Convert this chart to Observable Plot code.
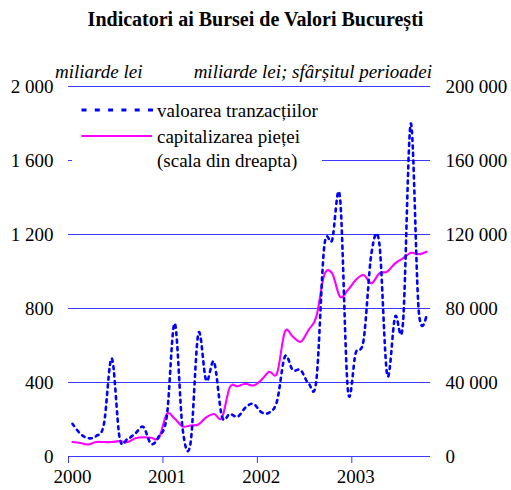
<!DOCTYPE html>
<html><head><meta charset="utf-8">
<script src="https://cdn.jsdelivr.net/npm/d3@7"></script>
<script src="https://cdn.jsdelivr.net/npm/@observablehq/plot@0.6"></script>
<style>
body{margin:0;background:#fff;font-family:"Liberation Serif","Times New Roman",serif;}
#title{width:511px;height:40px;text-align:center;font-weight:bold;font-size:20px;line-height:20px;padding-top:9px;box-sizing:border-box;color:#000;}
#chart svg{display:block;}
</style></head><body>
<div id="title">Indicatori ai Bursei de Valori București</div>
<div id="chart"></div>
<script>
const years = ["2000", "2001", "2002", "2003"];
const yearTicks = [0, 12, 24, 36];
const leftTicks = [0, 400, 800, 1200, 1600, 2000];
const rightTicks = [0, 40000, 80000, 120000, 160000, 200000];
const leftUnit = "miliarde lei";
const rightUnit = "miliarde lei; sfârșitul perioadei";
const seriesNames = ["valoarea tranzacțiilor", "capitalizarea pieței", "(scala din dreapta)"];

// monthly, Jan 2000 – Oct 2003
const valoarea = [
  177, 123, 99, 110, 175, 530, 100, 95, 125, 160, 68, 110,
  220, 720, 150, 70, 665, 410, 510, 215, 230, 215, 265, 285,
  240, 237, 300, 540, 467, 467, 396, 413, 1135, 1170, 1400, 360,
  560, 630, 1100, 1150, 440, 755, 720, 1800, 790, 765
];
const capitalizare = [
  7800, 7300, 6500, 7800, 7800, 7800, 8300, 7800, 9900, 10400, 10100, 10100,
  23000, 20400, 16200, 16800, 17300, 21200, 23000, 20900, 37500, 38000, 39300, 38400,
  41300, 45800, 45000, 67500, 64800, 62000, 68400, 75600, 98100, 99000, 86400, 90000,
  95400, 98100, 93600, 99000, 99900, 104400, 107100, 110100, 109300, 110700
];

const FONT = "Liberation Serif";
const rows = valoarea.map((v, i) => ({m: i + 0.5, v, c: capitalizare[i] / 100}));
const fmt = d3.formatLocale({thousands: " ", grouping: [3], decimal: ",", currency: ["", ""]}).format(",");
const BLUE = "#0000ff", GRID = "#3a3aff", MAG = "#ff00ff";
const txt = {fill: "black", fontFamily: FONT, fontSize: 19};

const plot = Plot.plot({
  width: 511, height: 450,
  marginTop: 46, marginBottom: 34, marginLeft: 68, marginRight: 81,
  style: `font-family: '${FONT}', serif; font-size: 19px; background: white; color: black; overflow: visible;`,
  x: {domain: [0, valoarea.length], axis: null},
  y: {domain: [0, 2000], axis: null},
  marks: [
    Plot.ruleY(leftTicks, {stroke: GRID, strokeWidth: 1}),
    Plot.axisX(yearTicks, {tickSize: 7, stroke: GRID, strokeWidth: 1, tickFormat: () => "", label: null}),
    Plot.text(yearTicks, {x: d => d, text: d => years[d / 12], frameAnchor: "bottom", dy: 26, dx: 4, ...txt}),
    Plot.text(leftTicks, {y: d => d, text: d => fmt(d), frameAnchor: "left", textAnchor: "end", dx: -15, ...txt}),
    Plot.text(rightTicks, {y: d => d / 100, text: d => fmt(d), frameAnchor: "right", textAnchor: "start", dx: 15, ...txt}),
    Plot.line(rows, {x: "m", y: "c", stroke: MAG, strokeWidth: 2.1, curve: "cardinal"}),
    Plot.line(rows, {x: "m", y: "v", stroke: BLUE, strokeWidth: 2.6, strokeDasharray: "3,4.5", curve: "cardinal"})
  ]
});
document.getElementById("chart").appendChild(plot);

// units + legend
const svg = d3.select(plot);
const g = svg.append("g");
function label(x, y, s, anchor, italic) {
  g.append("text").attr("x", x).attr("y", y).attr("text-anchor", anchor)
    .style("font-family", `'${FONT}', serif`).style("font-size", "19px")
    .style("font-style", italic ? "italic" : "normal").style("fill", "black").text(s);
}
label(55, 38, leftUnit, "start", true);
label(432, 38, rightUnit, "end", true);
g.append("rect").attr("x", 72).attr("y", 52).attr("width", 250).attr("height", 86).attr("fill", "white");
g.append("line").attr("x1", 81.5).attr("x2", 153).attr("y1", 70).attr("y2", 70).attr("stroke", BLUE).attr("stroke-width", 3).attr("stroke-dasharray", "5,8.3");
g.append("line").attr("x1", 81.5).attr("x2", 152).attr("y1", 96).attr("y2", 96).attr("stroke", MAG).attr("stroke-width", 2.2);
label(157, 76.5, seriesNames[0], "start", false);
label(157, 102.5, seriesNames[1], "start", false);
label(157, 127, seriesNames[2], "start", false);
</script>
</body></html>
